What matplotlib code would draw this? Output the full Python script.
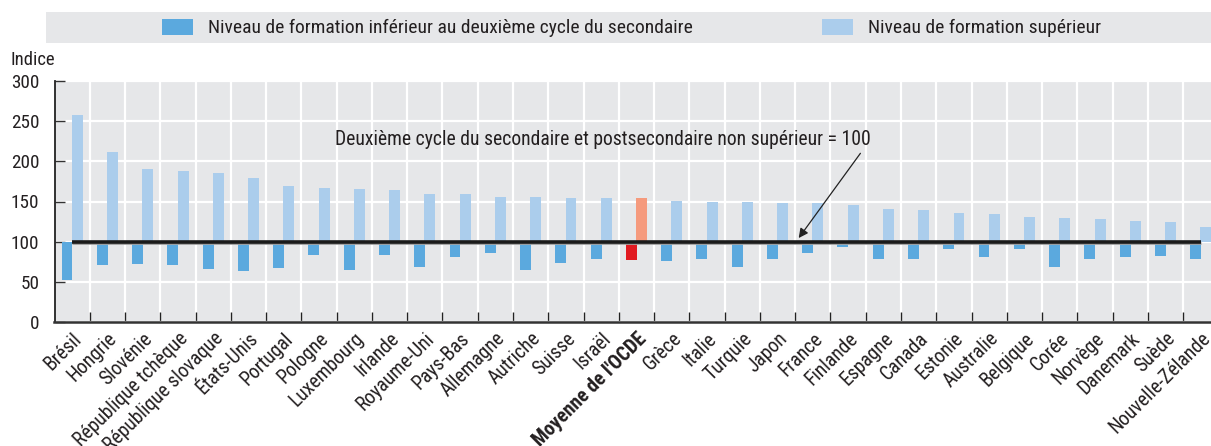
import matplotlib
matplotlib.use("Agg")
import matplotlib.pyplot as plt
import numpy as np
from matplotlib.patches import Rectangle

FONT = ['Roboto Condensed', 'DejaVu Sans']
plt.rcParams['font.family'] = FONT

countries = ["Brésil", "Hongrie", "Slovénie", "République tchèque", "République slovaque",
             "États-Unis", "Portugal", "Pologne", "Luxembourg", "Irlande", "Royaume-Uni",
             "Pays-Bas", "Allemagne", "Autriche", "Suisse", "Israël", "Moyenne de l'OCDE",
             "Grèce", "Italie", "Turquie", "Japon", "France", "Finlande", "Espagne", "Canada",
             "Estonie", "Australie", "Belgique", "Corée", "Norvège", "Danemark", "Suède",
             "Nouvelle-Zélande"]
below_upper_secondary = [52, 71, 72, 71, 66, 63, 67, 83, 65, 83, 69, 81, 86, 65, 73, 79, 77,
                         76, 78, 68, 79, 86, 93, 78, 79, 91, 81, 91, 68, 78, 81, 82, 78]
tertiary = [258, 211, 191, 188, 185, 179, 169, 167, 166, 164, 159, 159, 156, 155, 154, 154, 154,
            151, 149, 149, 148, 148, 146, 141, 140, 136, 135, 131, 130, 128, 126, 125, 118]
baseline = 100
oecd_label = "Moyenne de l'OCDE"
legend_labels = ["Niveau de formation inférieur au deuxième cycle du secondaire",
                 "Niveau de formation supérieur"]
note = "Deuxième cycle du secondaire et postsecondaire non supérieur = 100"

c_dark = "#5ba9de"
c_light = "#abcdec"
c_oecd_dark = "#e11a21"
c_oecd_light = "#f59a7d"
bg = "#e6e7e9"
txtc = "#231f20"

fig = plt.figure(figsize=(12.11, 4.46), dpi=100)
W, H = 1211, 446
renderer = fig.canvas.get_renderer()


def fit_size(s, target_px, weight="normal"):
    t = fig.text(0, 0, s, fontsize=10, family=FONT, fontweight=weight)
    w = t.get_window_extent(renderer).width
    t.remove()
    return 10 * target_px / w


tick_fs = fit_size("République slovaque", 160)
note_fs = fit_size(note, 531)
leg_fs = fit_size(legend_labels[0], 480)
y_fs = fit_size("300", 28)
ind_fs = fit_size("Indice", 44)

ax = fig.add_axes([54.5 / W, 1 - 322 / H, (1218.4 - 54.5) / W, (322 - 81) / H])
ax.set_facecolor(bg)

x = np.arange(len(countries))
bw = 0.31
off = 0.145
low = np.array(below_upper_secondary)
high = np.array(tertiary)
cols_d = [c_oecd_dark if c == oecd_label else c_dark for c in countries]
cols_l = [c_oecd_light if c == oecd_label else c_light for c in countries]
ax.bar(x - off, low - baseline, bottom=baseline, width=bw, color=cols_d, zorder=3)
ax.bar(x + off, high - baseline, bottom=baseline, width=bw, color=cols_l, zorder=3)

ax.plot([x[0], x[-1]], [baseline - 1.2, baseline - 1.2], color="#a0a0a0", lw=2.0, zorder=4,
        solid_capstyle="butt")
ax.plot([x[0], x[-1]], [baseline, baseline], color="#1a1a1a", lw=2.6, zorder=5,
        solid_capstyle="butt")

ax.set_xlim(-0.5, len(countries) - 0.5)
ax.set_ylim(0, 300)
ax.set_yticks([0, 50, 100, 150, 200, 250, 300])
ax.set_xticks(x)
ax.set_xticks(np.arange(-0.5, len(countries) - 0.5, 1.0)[1:], minor=True)
ax.set_xticklabels(countries, rotation=45, ha="right", rotation_mode="anchor",
                   fontsize=tick_fs, color=txtc)
for lab in ax.get_xticklabels():
    if lab.get_text() == oecd_label:
        lab.set_fontweight("bold")
ax.tick_params(axis="x", which="major", length=0, pad=5)
ax.tick_params(axis="x", which="minor", direction="in", length=7, width=1, color="#222222")
ax.tick_params(axis="y", direction="in", length=7, width=1, color="#333333",
               labelsize=y_fs, pad=11, labelcolor=txtc)

ax.grid(True, axis="y", color="white", lw=1.6, zorder=1)
ax.grid(True, axis="x", which="minor", color="white", lw=1.6, zorder=1)
ax.grid(False, axis="x", which="major")
ax.set_axisbelow(True)

for s in ["top", "right"]:
    ax.spines[s].set_visible(False)
ax.spines["left"].set_color("#222222")
ax.spines["left"].set_linewidth(1.3)
ax.spines["bottom"].set_color("#333333")
ax.spines["bottom"].set_linewidth(1.8)

fig.text(10 / W, 1 - 60 / H, "Indice", fontsize=ind_fs, color=txtc, va="center", ha="left")

ax.annotate("", xy=(20.6, 104.5), xytext=(22.35, 210),
            arrowprops=dict(arrowstyle="-|>", color="#222222", lw=0.9,
                            mutation_scale=14, shrinkA=0, shrinkB=0), zorder=6)
ax.text(15.05, 227.5, note, fontsize=note_fs, color=txtc, ha="center", va="center", zorder=6)

# legend box
fig.patches.append(Rectangle((46 / W, 1 - 43 / H), (W - 46) / W, 31 / H,
                             transform=fig.transFigure, facecolor=bg, edgecolor="none"))
fig.patches.append(Rectangle((162 / W, 1 - 35 / H), 31 / W, 16 / H,
                             transform=fig.transFigure, facecolor=c_dark, edgecolor="none"))
fig.text(208 / W, 1 - 27.5 / H, legend_labels[0],
         fontsize=leg_fs, color=txtc, va="center", ha="left")
fig.patches.append(Rectangle((822 / W, 1 - 35 / H), 31 / W, 16 / H,
                             transform=fig.transFigure, facecolor=c_light, edgecolor="none"))
fig.text(868 / W, 1 - 27.5 / H, legend_labels[1],
         fontsize=leg_fs, color=txtc, va="center", ha="left")

fig.savefig("out.png", dpi=100)
